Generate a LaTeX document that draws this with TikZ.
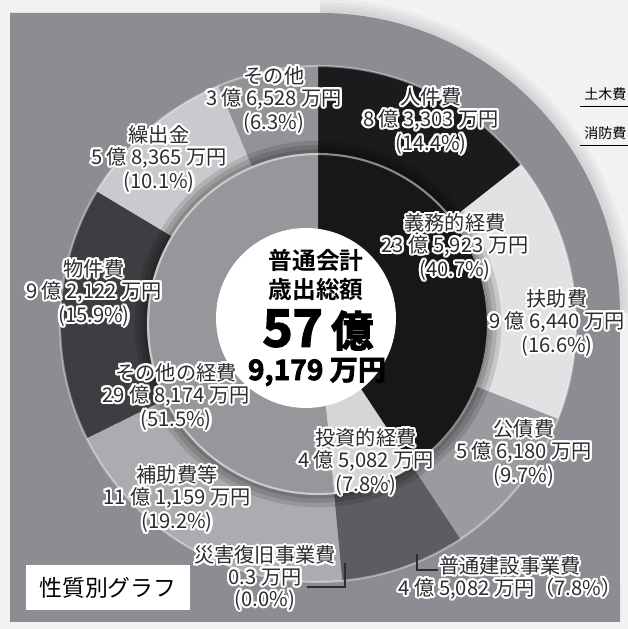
\documentclass[tikz,border=0pt]{standalone}
\usepackage{fontspec}
\setmainfont{Noto Sans CJK JP}[BoldFont={Noto Sans CJK JP Bold}]
\newfontfamily\heavyfont{Noto Sans CJK JP Bold}[FakeBold=3]
\usepackage{contour}
\contourlength{1.2pt}
\usetikzlibrary{positioning}

\definecolor{bgout}{RGB}{242,242,242}
\definecolor{panel}{RGB}{140,140,146}
\definecolor{jinken}{RGB}{28,26,28}
\definecolor{fujo}{RGB}{226,226,228}
\definecolor{kousai}{RGB}{154,154,159}
\definecolor{futsu}{RGB}{92,92,97}
\definecolor{hojo}{RGB}{172,172,176}
\definecolor{bukken}{RGB}{62,62,66}
\definecolor{kuridashi}{RGB}{202,202,206}
\definecolor{sonota}{RGB}{146,146,151}
\definecolor{gimu}{RGB}{24,22,24}
\definecolor{toushi}{RGB}{214,214,217}
\definecolor{keihi}{RGB}{150,150,155}
\definecolor{txt}{RGB}{45,45,45}

\newcommand{\hl}[1]{\contour{white}{#1}}
\newcommand{\slice}[4]{\fill[#1] (C) -- +(#2:#4) arc[start angle=#2, end angle=#3, radius=#4] -- cycle;}

\tikzset{
  lbl/.style={align=center, inner sep=0pt, text=txt, font=\fontsize{11.5}{12.4}\selectfont},
  total/.style={inner sep=0pt, text=black, font=\bfseries\fontsize{13.5}{14}\selectfont},
  lead/.style={draw=txt, line width=0.8pt}
}

\begin{document}
\begin{tikzpicture}[x=0.02cm, y=0.02cm]
  \useasboundingbox (0,0) rectangle (628,629);
  \fill[bgout] (0,0) rectangle (628,629);

  % panel with round corner
  \foreach \w in {16,12,8,4}
    \draw[panel, opacity=0.08, line width=\w pt] (320,616) arc[start angle=90, end angle=0, radius=6cm];
  \fill[panel] (10,7) -- (10,616) -- (320,616) arc[start angle=90, end angle=0, radius=6cm] -- (620,7) -- cycle;

  \coordinate (C) at (318,305);

  % outer ring
  \slice{jinken}{90}{38.16}{5.16cm}
  \slice{fujo}{38.16}{-21.6}{5.16cm}
  \slice{kousai}{-21.6}{-56.52}{5.16cm}
  \slice{futsu}{-56.52}{-84.6}{5.16cm}
  \slice{hojo}{-84.6}{-153.72}{5.16cm}
  \slice{bukken}{-153.72}{-210.96}{5.16cm}
  \slice{kuridashi}{-210.96}{-247.32}{5.16cm}
  \slice{sonota}{-247.32}{-270}{5.16cm}
  \draw[white, opacity=0.4, line width=1.2pt] (C) circle[radius=5.16cm];
  \foreach \w in {14,9,4}
    \draw[black, opacity=0.12, line width=\w pt] (C) circle[radius=3.42cm];

  % inner ring
  \slice{gimu}{90}{-56.52}{3.42cm}
  \slice{toushi}{-56.52}{-84.6}{3.42cm}
  \slice{keihi}{-84.6}{-270}{3.42cm}
  \draw[white, opacity=0.5, line width=1.2pt] (C) circle[radius=3.40cm];
  \fill[white] (306,311) circle[radius=1.8cm];

  % center
  \node[total] (t1) at (316,369) {普通会計};
  \node[total] (t2) at (316,339) {歳出総額};
  \node[total, font=\heavyfont\fontsize{29}{29}\selectfont] (t3) at (318,299) {57\,{\fontsize{24}{24}\selectfont 億}};
  \node[total, font=\heavyfont\fontsize{16}{16}\selectfont] (t4) at (317,257) {9,179 万円};

  % labels
  \node[lbl] (sonota) at (274,528) {\hl{その他}\\\hl{3 億 6,528 万円}\\\hl{(6.3\%)}};
  \node[lbl] (jinken) at (431,507) {\hl{人件費}\\\hl{8 億 3,303 万円}\\\hl{(14.4\%)}};
  \node[lbl] (kuri) at (159,469) {\hl{繰出金}\\\hl{5 億 8,365 万円}\\\hl{(10.1\%)}};
  \node[lbl] (bukken) at (94,335) {\hl{物件費}\\\hl{9 億 2,122 万円}\\\hl{(15.9\%)}};
  \node[lbl] (gimu) at (455,381) {\hl{義務的経費}\\\hl{23 億 5,923 万円}\\\hl{(40.7\%)}};
  \node[lbl] (fujo) at (557,305) {\hl{扶助費}\\\hl{9 億 6,440 万円}\\\hl{(16.6\%)}};
  \node[lbl] (kousai) at (524,175) {\hl{公債費}\\\hl{5 億 6,180 万円}\\\hl{(9.7\%)}};
  \node[lbl] (toushi) at (366,166) {\hl{投資的経費}\\\hl{4 億 5,082 万円}\\\hl{(7.8\%)}};
  \node[lbl] (keihi) at (176,231) {\hl{その他の経費}\\\hl{29 億 8,174 万円}\\\hl{(51.5\%)}};
  \node[lbl] (hojo) at (177,129) {\hl{補助費等}\\\hl{11 億 1,159 万円}\\\hl{(19.2\%)}};
  \node[lbl] (saigai) at (265,50) {\hl{災害復旧事業費}\\\hl{0.3 万円}\\\hl{(0.0\%)}};
  \node[lbl] (futsu) at (510,50) {\hl{普通建設事業費}\\\hl{4 億 5,082 万円（7.8\%）}};

  % leaders
  \coordinate (sa1) at (307,42);
  \coordinate (sa2) at (345,66);
  \draw[lead] (sa1) -| (sa2);
  \coordinate (fu1) at (417,75);
  \coordinate (fu2) at (438,59);
  \draw[lead] (fu1) |- (fu2);

  % title
  \node[fill=white, minimum width=3.28cm, minimum height=0.9cm, inner sep=0pt, font=\fontsize{13}{13}\selectfont] (ttl) at (108,41.5) {性質別グラフ};

  % legend at right
  \node[anchor=west, inner sep=0pt, font=\fontsize{8}{9}\selectfont] (doboku) at (584,535) {土木費};
  \node[anchor=west, inner sep=0pt, font=\fontsize{8}{9}\selectfont] (shobo) at (584,496) {消防費};
  \draw[line width=0.6pt] ([xshift=-2pt, yshift=-3pt]doboku.south west) -- ([xshift=2pt, yshift=-3pt]doboku.south east);
  \draw[line width=0.6pt] ([xshift=-2pt, yshift=-3pt]shobo.south west) -- ([xshift=2pt, yshift=-3pt]shobo.south east);
\end{tikzpicture}
\end{document}
